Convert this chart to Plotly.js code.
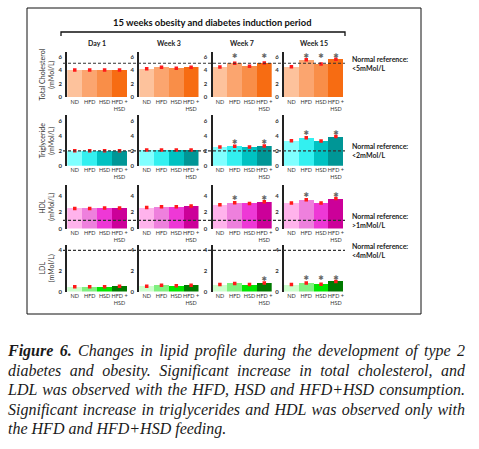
<!DOCTYPE html>
<html>
<head>
<meta charset="utf-8">
<script src="https://cdn.plot.ly/plotly-3.0.1.min.js"></script>
<style>
  body { margin: 0; background: #fff; }
  #wrap { position: relative; width: 479px; height: 449px; overflow: hidden; background: #fff; }
  #chart { position: absolute; left: 0; top: 0; width: 479px; height: 449px; }
  #caption { position: absolute; left: 8px; top: 341px; width: 457px;
    font-family: "Liberation Serif", "Times New Roman", serif; font-style: italic;
    font-size: 16px; line-height: 19.5px; color: #1a1a1a; }
  #caption div { text-align: justify; text-align-last: justify; }
  #caption div.last { text-align: left; text-align-last: left; }
</style>
</head>
<body>
<div id="wrap">
  <div id="chart"></div>
  <div id="caption">
    <div><b>Figure 6.</b> Changes in lipid profile during the development of type 2</div>
    <div>diabetes and obesity. Significant increase in total cholesterol, and</div>
    <div>LDL was observed with the HFD, HSD and HFD+HSD consumption.</div>
    <div>Significant increase in triglycerides and HDL was observed only with</div>
    <div class="last">the HFD and HFD+HSD feeding.</div>
  </div>
</div>
<script>
// ---------------- DATA ----------------
const periods = ["Day 1", "Week 3", "Week 7", "Week 15"];
const groups = ["ND", "HFD", "HSD", "HFD+HSD"];
const groupTickText = ["ND", "HFD", "HSD", "HFD +<br>HSD"];
const lipidTitles = ["Total Cholesterol", "Triglyceride", "HDL", "LDL"];
const unitText = "(mMol/L)";
const mainTitle = "15 weeks obesity and diabetes induction period";

// values per period (Day 1, Week 3, Week 7, Week 15), groups ND, HFD, HSD, HFD+HSD
const cholesterol = [[4.0, 4.0, 4.0, 4.0], [4.2, 4.4, 4.25, 4.4], [4.45, 5.0, 4.55, 5.05], [4.5, 5.5, 4.9, 5.6]];
const triglyceride = [[2.0, 2.02, 2.0, 2.0], [2.1, 2.1, 2.12, 2.1], [2.5, 2.6, 2.5, 2.65], [3.35, 3.75, 3.3, 3.9]];
const hdl = [[2.45, 2.45, 2.5, 2.5], [2.55, 2.65, 2.65, 2.75], [2.9, 3.15, 3.05, 3.25], [3.1, 3.5, 3.1, 3.65]];
const ldl = [[0.45, 0.45, 0.45, 0.5], [0.5, 0.6, 0.55, 0.6], [0.67, 0.78, 0.67, 0.83], [0.67, 0.83, 0.7, 0.98]];

// significance (1 = asterisk)
const cholSig = [[0,0,0,0],[0,0,0,0],[0,1,0,1],[0,1,1,1]];
const trigSig = [[0,0,0,0],[0,0,0,0],[0,1,0,1],[0,1,0,1]];
const hdlSig  = [[0,0,0,0],[0,0,0,0],[0,1,0,1],[0,1,0,1]];
const ldlSig  = [[0,0,0,0],[0,0,0,0],[0,0,0,1],[0,1,1,1]];

// normal reference values and labels
const refValues = [5, 2, 1, 4];
const refLabels = ["&lt;5mMol/L", "&lt;2mMol/L", "&gt;1mMol/L", "&lt;4mMol/L"];
const yMax = [6.7, 6.8, 5.3, 4.5];
const yTicks = [[0, 2, 4, 6], [0, 2, 4, 6], [0, 2, 4], [0, 2, 4]];

// ---------------- STYLE ----------------
const rowColors = [
  ["#FDC29C", "#FBA56F", "#F98E48", "#F76C12"],
  ["#80FFFF", "#33F0F0", "#00C2C2", "#009696"],
  ["#FFB3EC", "#EE80DD", "#EE38D6", "#CC0099"],
  ["#CCFFCC", "#80F080", "#00E600", "#007A00"]
];
const W = 479, H = 449;
const px = v => v / W, py = v => 1 - v / H;
const xDomPx = [[67.3, 127], [139.3, 198.5], [212.5, 271.7], [284, 343.3]];
const yDomPx = [[51.7, 97.3], [115, 165.7], [185, 228.5], [245.2, 291.5]];
const FONT = "Lato, 'Liberation Sans', sans-serif";

const rowValues = [cholesterol, triglyceride, hdl, ldl];
const rowSig = [cholSig, trigSig, hdlSig, ldlSig];

const traces = [];
const layout = {
  width: W, height: H, margin: { l: 0, r: 0, t: 0, b: 0 },
  paper_bgcolor: "rgba(0,0,0,0)", plot_bgcolor: "rgba(0,0,0,0)",
  showlegend: false, bargap: 0, barmode: "group",
  font: { family: FONT, color: "#333" },
  shapes: [], annotations: []
};

for (let r = 0; r < 4; r++) {
  // in the first row the asterisks share one level (row maximum)
  const rowTop = Math.max.apply(null, rowValues[r].flat());
  for (let w = 0; w < 4; w++) {
    const idx = r * 4 + w + 1;
    const sfx = idx > 1 ? String(idx) : "";
    const xa = "x" + sfx, ya = "y" + sfx;
    layout["xaxis" + sfx] = {
      domain: [px(xDomPx[w][0]), px(xDomPx[w][1])], anchor: ya,
      type: "category", range: [-0.5, 3.5], tickvals: groups, ticktext: groupTickText,
      tickangle: 0, showline: false, showgrid: false, zeroline: false, ticks: "",
      tickfont: { size: 5.5, color: "#333", family: FONT }, fixedrange: true
    };
    layout["yaxis" + sfx] = {
      domain: [py(yDomPx[r][1]), py(yDomPx[r][0])], anchor: xa,
      range: [0, yMax[r]], tickvals: yTicks[r], showline: true, linecolor: "#222", linewidth: 2,
      showgrid: false, zeroline: false, ticks: "outside", ticklen: 2, tickcolor: "rgba(0,0,0,0)",
      tickfont: { size: 6, color: "#333", family: FONT, weight: "bold" }, fixedrange: true
    };
    const vals = rowValues[r][w];
    traces.push({
      type: "bar", x: groups, y: vals, xaxis: xa, yaxis: ya, width: 1,
      marker: { color: rowColors[r], line: { width: 0 } }, hoverinfo: "skip"
    });
    traces.push({
      type: "scatter", mode: "markers", x: groups, y: vals, xaxis: xa, yaxis: ya,
      marker: { symbol: "square", size: 3.5, color: "#ff1a1a" }, hoverinfo: "skip"
    });
    const sig = rowSig[r][w];
    const top = r === 0 ? rowTop : Math.max.apply(null, vals);
    const sx = groups.filter((g, i) => sig[i]);
    if (sx.length) {
      traces.push({
        type: "scatter", mode: "text", x: sx, y: sx.map(() => top), xaxis: xa, yaxis: ya,
        text: sx.map(() => "✱"), textposition: "top center",
        textfont: { size: 6.5, color: "#666", family: "DejaVu Sans" }, hoverinfo: "skip"
      });
    }
  }
  const firstY = "y" + (r === 0 ? "" : String(r * 4 + 1));
  // dashed normal reference line
  layout.shapes.push({
    type: "line", xref: "paper", yref: firstY, x0: px(63), x1: px(345),
    y0: refValues[r], y1: refValues[r], line: { color: "#333", width: 1.2, dash: "3px,2px" }
  });
  layout.annotations.push({
    xref: "paper", yref: firstY, x: px(350), y: refValues[r], xanchor: "left", yanchor: "middle",
    align: "left", showarrow: false, text: "Normal reference:<br>" + refLabels[r],
    font: { size: 7, color: "#222", family: FONT, weight: "bold" }
  });
  // y title
  layout.annotations.push({
    xref: "paper", yref: "paper", x: px(47), y: py((yDomPx[r][0] + yDomPx[r][1]) / 2),
    xanchor: "center", yanchor: "middle", textangle: -90, showarrow: false,
    text: lipidTitles[r] + "<br>" + unitText, font: { size: 7, color: "#333", family: FONT }
  });
}

// column headers
periods.forEach((p, w) => {
  layout.annotations.push({
    xref: "paper", yref: "paper", x: px((xDomPx[w][0] + xDomPx[w][1]) / 2), y: py(43.3),
    xanchor: "center", yanchor: "middle", showarrow: false, text: "<b>" + p + "</b>",
    font: { size: 7, color: "#222", family: FONT }
  });
});
// main title
layout.annotations.push({
  xref: "paper", yref: "paper", x: px(212), y: py(23), xanchor: "center", yanchor: "middle",
  showarrow: false, text: "<b>" + mainTitle + "</b>", font: { size: 9.4, color: "#111", family: FONT }
});
// bracket
layout.shapes.push({
  type: "path", xref: "paper", yref: "paper",
  path: `M ${px(61)} ${py(36)} L ${px(61)} ${py(32)} L ${px(345)} ${py(32)} L ${px(345)} ${py(36)}`,
  line: { color: "#111", width: 1.3 }
});
// outer frame
layout.shapes.push({
  type: "rect", xref: "paper", yref: "paper", x0: px(27), x1: px(421), y0: py(314), y1: py(8),
  line: { color: "#111", width: 1 }
});

Plotly.newPlot("chart", traces, layout, { staticPlot: true, displayModeBar: false });
</script>
</body>
</html>
